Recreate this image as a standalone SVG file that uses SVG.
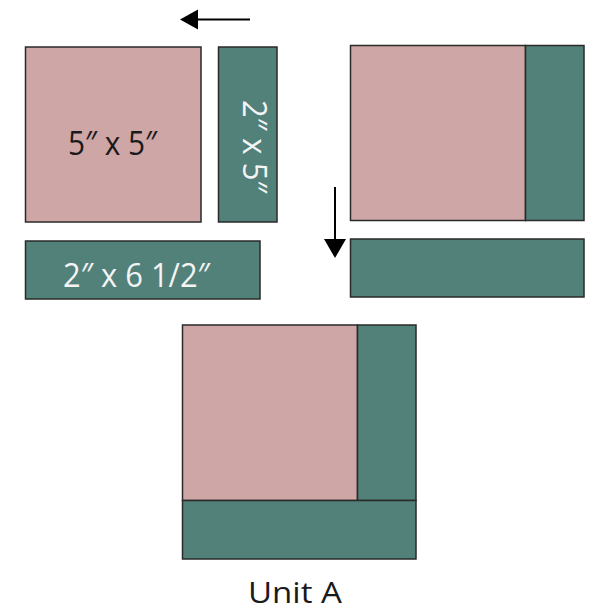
<svg xmlns="http://www.w3.org/2000/svg" width="590" height="612" viewBox="0 0 590 612">
<defs>
<style>
.pink{fill:#cfa6a6;stroke:#2a2a2a;stroke-width:1.5}
.green{fill:#52817a;stroke:#2a2a2a;stroke-width:1.5}
.lbl{font-family:"Open Sans","Liberation Sans",sans-serif;font-size:32px;text-anchor:middle}
.dark{fill:#1a1a1a}
.light{fill:#f4f4f4}
.arr{stroke:#000;stroke-width:2;fill:none}
</style>
</defs>
<rect width="590" height="612" fill="#fff"/>
<g id="square-5x5">
<rect class="pink" x="25.5" y="47" width="175.5" height="175"/>
<text class="lbl dark" x="112.5" y="155" textLength="89" lengthAdjust="spacingAndGlyphs">5″ x 5″</text>
</g>
<g id="strip-2x5">
<rect class="green" x="218.5" y="47" width="58.5" height="175"/>
<text class="lbl light" transform="translate(243,146.5) rotate(90)" x="0" y="0" textLength="93" lengthAdjust="spacingAndGlyphs">2″ x 5″</text>
</g>
<g id="strip-2x6-5">
<rect class="green" x="25.5" y="241" width="234.5" height="58"/>
<text class="lbl light" x="136.5" y="287" textLength="147" lengthAdjust="spacingAndGlyphs">2″ x 6 1/2″</text>
</g>
<g id="step2">
<rect class="pink" x="350.5" y="45.5" width="175" height="175"/>
<rect class="green" x="525.5" y="45.5" width="58.5" height="175"/>
<rect class="green" x="350.5" y="239" width="233.5" height="58"/>
</g>
<g id="unit-a">
<rect class="pink" x="182.5" y="325" width="175" height="175.5"/>
<rect class="green" x="357.5" y="325" width="58.5" height="175.5"/>
<rect class="green" x="182.5" y="500.5" width="233.5" height="58.5"/>
<text class="lbl dark" x="295" y="603" style="font-size:29px" textLength="94" lengthAdjust="spacingAndGlyphs">Unit A</text>
</g>
<g id="connectors">
<line class="arr" x1="250" y1="19.5" x2="195" y2="19.5"/>
<polygon points="180,19.5 198,9.5 198,29.5" fill="#000"/>
<line class="arr" x1="335" y1="187" x2="335" y2="242"/>
<polygon points="335,258 324,239 346,239" fill="#000"/>
</g>
</svg>
